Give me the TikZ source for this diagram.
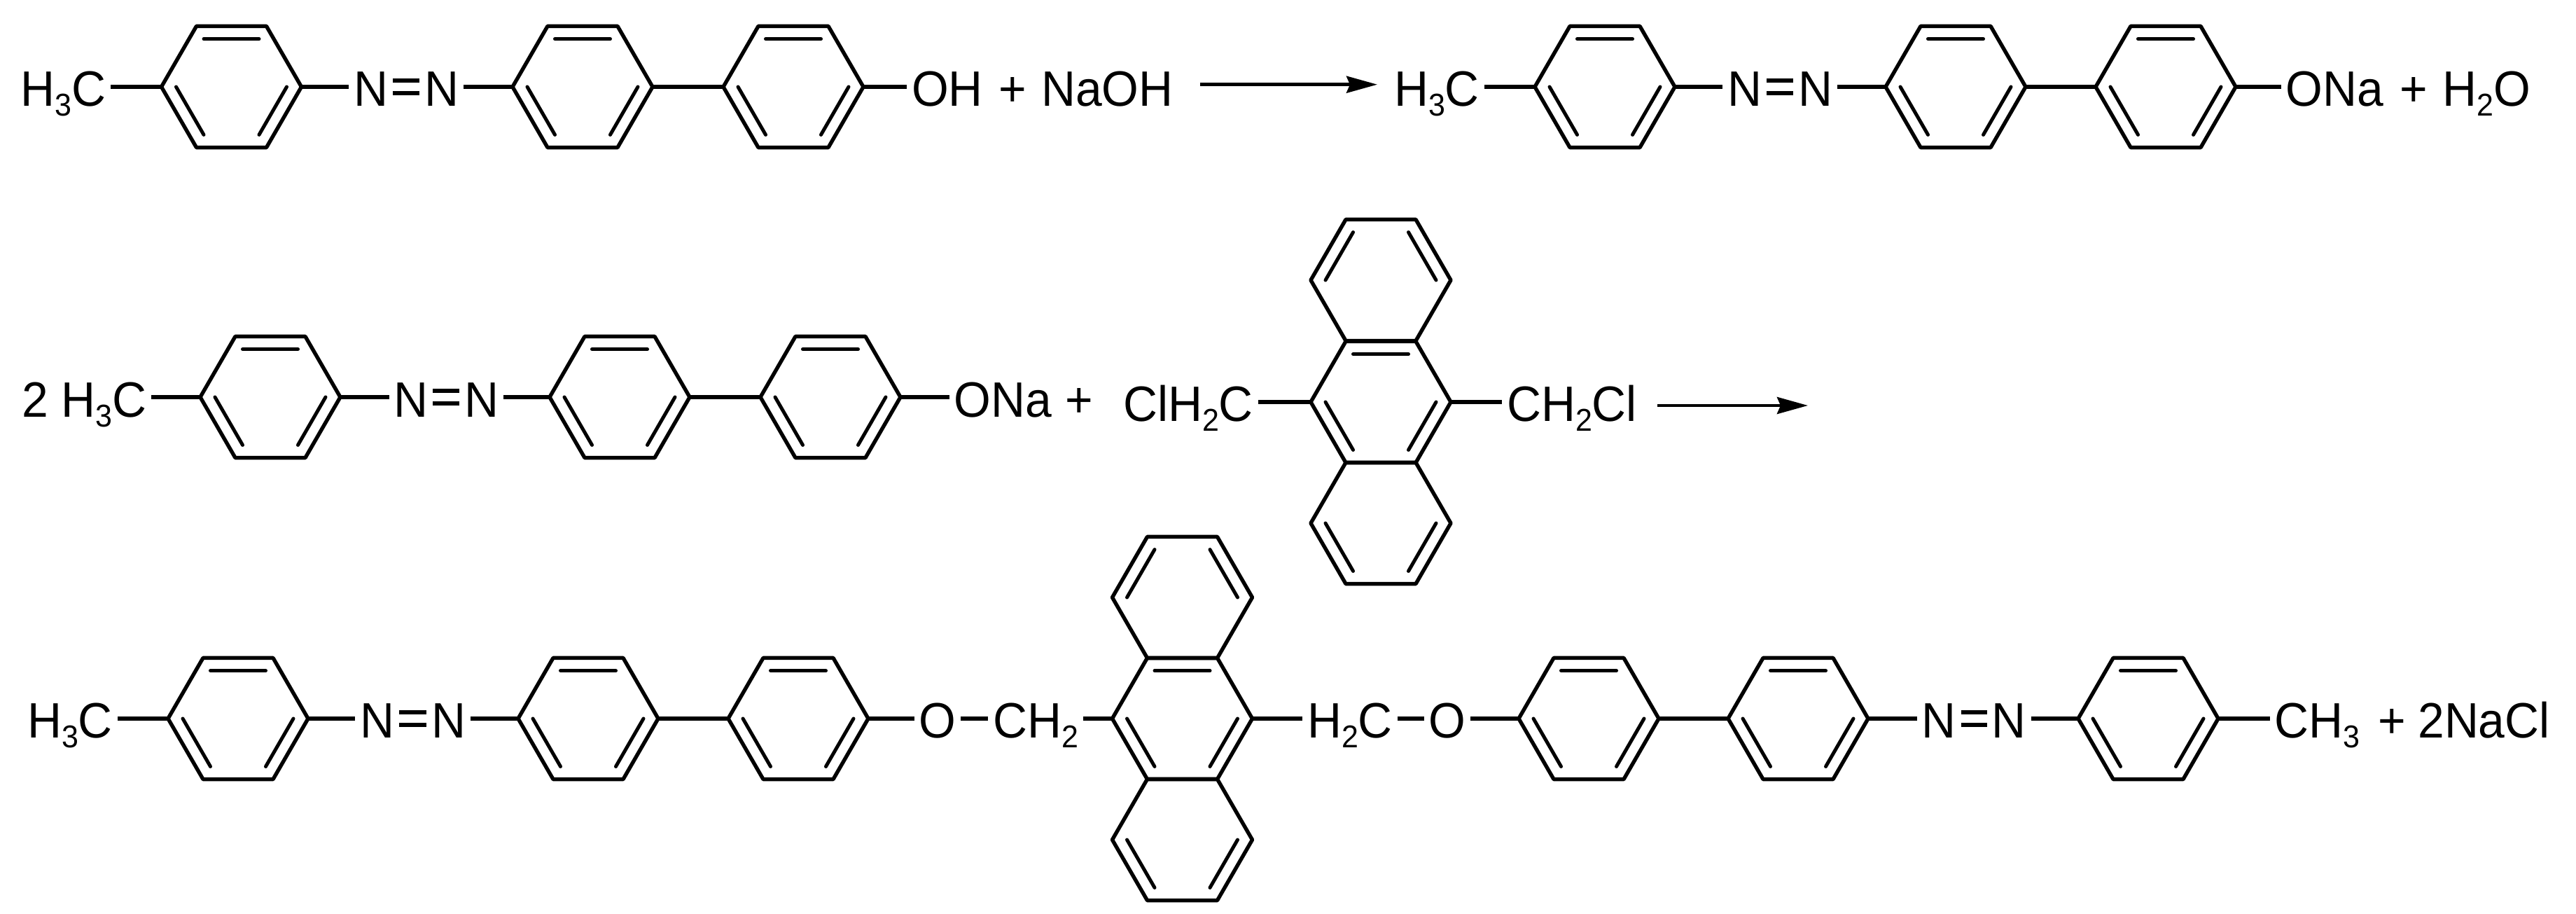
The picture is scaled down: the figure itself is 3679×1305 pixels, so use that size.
\documentclass[tikz,border=0pt]{standalone}
\usepackage{fontspec}
\setmainfont[FakeStretch=0.955]{Liberation Sans}
\usetikzlibrary{calc,arrows.meta}
\newcommand{\sbs}[1]{\raisebox{-2.8pt}{\fontsize{9}{10}\selectfont #1}}
\tikzset{
  bond/.style={line width=1.08pt,line join=round,line cap=butt},
  innerbond/.style={line width=1pt,line cap=round},
  atom/.style={font=\fontsize{14.2}{17}\selectfont,inner xsep=1.2pt,inner ysep=0pt,anchor=base},
  rxn/.style={line width=0.9pt,-{Stealth[length=8.8pt,width=4.8pt,inset=1pt]}}
}
% name, cx, cy, edges carrying an inner line
\newcommand{\benz}[4]{%
  \coordinate (#1) at (#2,#3);
  \foreach \i/\a in {0/0,1/60,2/120,3/180,4/240,5/300}
    \coordinate (#1-\i) at ({#2+100*cos(\a)},{#3+100*sin(\a)});
  \draw[bond] (#1-0)--(#1-1)--(#1-2)--(#1-3)--(#1-4)--(#1-5)--cycle;
  \edef\edgelist{#4}%
  \foreach \i/\j in \edgelist
    \draw[innerbond] ($(#1)!.79!(#1-\i)$) -- ($(#1)!.79!(#1-\j)$);
}
\newcommand{\azo}[3]{% n1, n2, level coordinate
  \draw[bond] ($(#3 -| #1.east)+(0,-9)$) -- ($(#3 -| #2.west)+(0,-9)$);
  \draw[bond] ($(#3 -| #1.east)+(0,9)$) -- ($(#3 -| #2.west)+(0,9)$);
}
\newcommand{\std}{4/5,2/3,0/1}
\begin{document}
\begin{tikzpicture}[x=0.2pt,y=-0.2pt]
\useasboundingbox (0,0) rectangle (3679,1305);
\fill[white] (0,0) rectangle (3679,1305);

% ---------- row 1, reactant
\benz{a}{330.5}{124}{\std}
\benz{b}{832}{124}{\std}
\benz{c}{1133}{124}{\std}
\node[atom] (amet) at (90.5,152) {H\sbs{3}C};
\node[atom] (an1) at (529.5,152) {N};
\node[atom] (an2) at (630.5,152) {N};
\node[atom] (aoh) at (1353,152) {OH};
\node[atom] (aplus) at (1446,152) {+};
\node[atom] (anaoh) at (1581.5,152) {NaOH};
\draw[bond] (a-3) -- (a-3 -| amet.east);
\draw[bond] (a-0) -- (a-0 -| an1.west);
\azo{an1}{an2}{a}
\draw[bond] (a-0 -| an2.east) -- (b-3);
\draw[bond] (b-0) -- (c-3);
\draw[bond] (c-0) -- (c-0 -| aoh.west);
\coordinate (arr1s) at (1714,120.7);
\coordinate (arr1e) at (1967,120.7);
\draw[rxn] (arr1s) -- (arr1e);

% ---------- row 1, product
\benz{d}{2292}{124}{\std}
\benz{e}{2793}{124}{\std}
\benz{f}{3093}{124}{\std}
\node[atom] (dmet) at (2052,152) {H\sbs{3}C};
\node[atom] (dn1) at (2491.5,152) {N};
\node[atom] (dn2) at (2592.5,152) {N};
\node[atom] (dona) at (3334.5,152) {ONa};
\node[atom] (dplus) at (3447,152) {+};
\node[atom] (dwat) at (3551,152) {H\sbs{2}O};
\draw[bond] (d-3) -- (d-3 -| dmet.east);
\draw[bond] (d-0) -- (d-0 -| dn1.west);
\azo{dn1}{dn2}{d}
\draw[bond] (d-0 -| dn2.east) -- (e-3);
\draw[bond] (e-0) -- (f-3);
\draw[bond] (f-0) -- (f-0 -| dona.west);

% ---------- row 2
\benz{g}{386}{567}{\std}
\benz{h}{885}{567}{\std}
\benz{i}{1186}{567}{\std}
\node[atom] (gtwo) at (50.5,595) {2};
\node[atom] (gmet) at (148.5,595) {H\sbs{3}C};
\node[atom] (gn1) at (587,595) {N};
\node[atom] (gn2) at (687.5,595) {N};
\node[atom] (gona) at (1432.5,595) {ONa};
\node[atom] (gplus) at (1541,595) {+};
\draw[bond] (g-3) -- (g-3 -| gmet.east);
\draw[bond] (g-0) -- (g-0 -| gn1.west);
\azo{gn1}{gn2}{g}
\draw[bond] (g-0 -| gn2.east) -- (h-3);
\draw[bond] (h-0) -- (i-3);
\draw[bond] (i-0) -- (i-0 -| gona.west);

\benz{j}{1972}{400}{3/4,5/0}
\benz{k}{1972}{574}{\std}
\benz{l}{1972}{747}{2/3,0/1}
\node[atom] (kl) at (1697,601) {ClH\sbs{2}C};
\node[atom] (kr) at (2245,601) {CH\sbs{2}Cl};
\draw[bond] (k-3) -- (k-3 -| kl.east);
\draw[bond] (k-0) -- (k-0 -| kr.west);
\coordinate (arr2s) at (2367,579);
\coordinate (arr2e) at (2582,579);
\draw[rxn] (arr2s) -- (arr2e);

% ---------- row 3
\benz{m}{340}{1026}{\std}
\benz{n}{840}{1026}{\std}
\benz{o}{1140}{1026}{\std}
\node[atom] (mmet) at (100,1053) {H\sbs{3}C};
\node[atom] (mn1) at (538.5,1053) {N};
\node[atom] (mn2) at (640.5,1053) {N};
\node[atom] (oo) at (1339,1053) {O};
\node[atom] (och) at (1479,1053) {CH\sbs{2}};
\draw[bond] (m-3) -- (m-3 -| mmet.east);
\draw[bond] (m-0) -- (m-0 -| mn1.west);
\azo{mn1}{mn2}{m}
\draw[bond] (m-0 -| mn2.east) -- (n-3);
\draw[bond] (n-0) -- (o-3);
\draw[bond] (o-0) -- (o-0 -| oo.west);
\draw[bond] (o-0 -| oo.east) -- (o-0 -| och.west);

\benz{p}{1688.5}{853}{3/4,5/0}
\benz{q}{1688.5}{1026}{\std}
\benz{r}{1688.5}{1199}{2/3,0/1}
\draw[bond] (q-3 -| och.east) -- (q-3);

\node[atom] (qch) at (1928,1053) {H\sbs{2}C};
\node[atom] (qo) at (2067,1053) {O};
\draw[bond] (q-0) -- (q-0 -| qch.west);
\draw[bond] (q-0 -| qch.east) -- (q-0 -| qo.west);

\benz{s}{2269}{1026}{\std}
\benz{t}{2568}{1026}{\std}
\benz{u}{3068}{1026}{\std}
\node[atom] (sn1) at (2769,1053) {N};
\node[atom] (sn2) at (2869,1053) {N};
\node[atom] (smet) at (3309.5,1053) {CH\sbs{3}};
\node[atom] (splus) at (3416,1053) {+};
\node[atom] (snacl) at (3547.5,1053) {2NaCl};
\draw[bond] (s-3 -| qo.east) -- (s-3);
\draw[bond] (s-0) -- (t-3);
\draw[bond] (t-0) -- (t-0 -| sn1.west);
\azo{sn1}{sn2}{t}
\draw[bond] (t-0 -| sn2.east) -- (u-3);
\draw[bond] (u-0) -- (u-0 -| smet.west);
\end{tikzpicture}
\end{document}
